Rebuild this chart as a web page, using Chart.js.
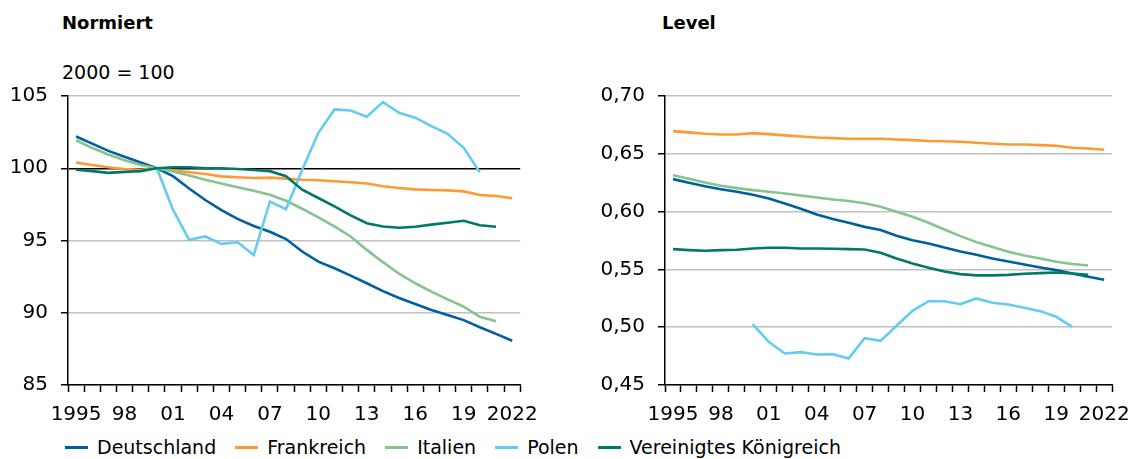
<!DOCTYPE html>
<html>
<head>
<meta charset="utf-8">
<script src="https://cdn.jsdelivr.net/npm/chart.js@4.4.1/dist/chart.umd.min.js"></script>
<style>
  body { margin: 0; background: #fff; width: 1138px; height: 459px; position: relative; overflow: hidden; font-family: "DejaVu Sans", sans-serif; color: #000; }
  canvas { position: absolute; top: 0; }
  .titel { position: absolute; font-weight: bold; font-size: 18px; line-height: 20px; }
  .sub { position: absolute; font-size: 19px; line-height: 20px; }
  #legende { position: absolute; left: 65px; top: 436px; display: flex; font-size: 19px; line-height: 22px; white-space: nowrap; }
  #legende .item { display: flex; align-items: center; margin-right: 19px; }
  #legende .strich { width: 23px; height: 3px; margin-right: 9px; }
</style>
</head>
<body>
<div class="titel" style="left:62px; top:13px;">Normiert</div>
<div class="sub" style="left:62px; top:62px;">2000 = 100</div>
<div class="titel" style="left:662px; top:13px;">Level</div>
<canvas id="links" width="549" height="430" style="left:0;"></canvas>
<canvas id="rechts" width="571" height="430" style="left:570px;"></canvas>
<div id="legende"></div>
<script>
const jahre = [1995, 1996, 1997, 1998, 1999, 2000, 2001, 2002, 2003, 2004, 2005, 2006, 2007, 2008,
  2009, 2010, 2011, 2012, 2013, 2014, 2015, 2016, 2017, 2018, 2019, 2020, 2021, 2022];
const xTickLabels = ['1995', '98', '01', '04', '07', '10', '13', '16', '19', '2022'];

const laender = ['Deutschland', 'Frankreich', 'Italien', 'Polen', 'Vereinigtes Königreich'];
const farben = ['#005f9e', '#ff9933', '#85c48f', '#66cbf3', '#007a68'];

// normiert, 2000 = 100
const normDeutschland = [102.2, 101.7, 101.2, 100.8, 100.4, 100.0, 99.45, 98.6, 97.8, 97.1, 96.5, 96.0, 95.6, 95.1,
  94.24, 93.54, 93.08, 92.57, 92.04, 91.5, 91.02, 90.6, 90.19, 89.84, 89.49, 89.0, 88.54, 88.06];
const normFrankreich = [100.39, 100.23, 100.07, 99.95, 99.9, 100.0, 99.86, 99.72, 99.6, 99.44, 99.38, 99.33, 99.35, 99.28,
  99.2, 99.17, 99.1, 99.03, 98.94, 98.75, 98.63, 98.54, 98.5, 98.47, 98.4, 98.15, 98.08, 97.92];
const normItalien = [101.94, 101.4, 100.95, 100.55, 100.23, 100.0, 99.77, 99.5, 99.2, 98.94, 98.68, 98.45, 98.17, 97.75,
  97.2, 96.6, 95.97, 95.28, 94.35, 93.5, 92.7, 92.04, 91.46, 90.93, 90.42, 89.72, 89.42, null];
const normPolen = [null, null, null, null, null, 100.0, 97.13, 95.05, 95.28, 94.77, 94.88, 94.0, 97.7, 97.17,
  99.9, 102.45, 104.07, 104.0, 103.56, 104.58, 103.84, 103.5, 102.92, 102.38, 101.41, 99.72, null, null];
const normUK = [99.9, 99.8, 99.68, 99.75, 99.8, 100.0, 100.07, 100.07, 100.0, 100.0, 99.95, 99.88, 99.8, 99.45,
  98.52, 97.94, 97.36, 96.74, 96.2, 95.97, 95.88, 95.95, 96.1, 96.23, 96.37, 96.06, 95.95, null];

// Level
const levelDeutschland = [0.6281, 0.6249, 0.622, 0.6194, 0.6171, 0.6145, 0.6114, 0.607, 0.6024, 0.5975, 0.5935, 0.5903, 0.5868, 0.584,
  0.5791, 0.5753, 0.5724, 0.569, 0.5655, 0.5626, 0.5595, 0.5569, 0.5543, 0.5517, 0.5494, 0.5465, 0.5436, 0.541];
const levelFrankreich = [0.6696, 0.6685, 0.6673, 0.6667, 0.6667, 0.6679, 0.667, 0.6659, 0.665, 0.6641, 0.6636, 0.663, 0.663, 0.663,
  0.6624, 0.6618, 0.6611, 0.6609, 0.6604, 0.6595, 0.6587, 0.6581, 0.6581, 0.6575, 0.6569, 0.6552, 0.6546, 0.6535];
const levelItalien = [0.6315, 0.6284, 0.6252, 0.6223, 0.6203, 0.6186, 0.6171, 0.6157, 0.614, 0.6122, 0.6105, 0.6091, 0.6073, 0.6042,
  0.5998, 0.5955, 0.5903, 0.5845, 0.5788, 0.5736, 0.5693, 0.5652, 0.5621, 0.5595, 0.5566, 0.5546, 0.5534, null];
const levelPolen = [null, null, null, null, null, 0.5024, 0.4874, 0.4773, 0.4784, 0.4764, 0.4767, 0.473, 0.4905, 0.4882,
  0.5012, 0.5142, 0.5225, 0.5225, 0.5199, 0.5249, 0.5211, 0.5197, 0.5168, 0.5139, 0.509, 0.5003, null, null];
const levelUK = [0.5675, 0.5667, 0.5661, 0.5667, 0.567, 0.5681, 0.5687, 0.5687, 0.5681, 0.5681, 0.5678, 0.5675, 0.5672, 0.5644,
  0.5595, 0.5551, 0.5514, 0.5482, 0.5459, 0.5448, 0.5448, 0.5453, 0.5462, 0.5468, 0.5473, 0.5465, 0.5453, null];

const schrift = { family: '"DejaVu Sans", sans-serif', size: 20 };

function zeichne(id, reihen, yMin, yMax, yStep, format, linie100, yBreite, rechtsPad) {
  const ctx = document.getElementById(id).getContext('2d');
  return new Chart(ctx, {
    type: 'line',
    data: {
      labels: jahre,
      datasets: reihen.map((werte, i) => ({
        label: laender[i],
        data: werte,
        borderColor: farben[i],
        backgroundColor: farben[i],
        borderWidth: 2.6,
        pointRadius: 0,
        tension: 0,
        order: reihen.length - i
      }))
    },
    options: {
      responsive: false,
      animation: false,
      layout: { padding: { top: 96, right: rechtsPad, left: 0, bottom: 0 } },
      plugins: { legend: { display: false }, tooltip: { enabled: false } },
      scales: {
        x: {
          offset: true,
          border: { color: '#000', width: 1.5 },
          grid: { offset: true, drawOnChartArea: false, drawTicks: true, tickLength: 7, tickColor: '#000', tickWidth: 1.5 },
          ticks: {
            autoSkip: false, maxRotation: 0, color: '#000', font: schrift, padding: 11,
            callback: (v, i) => (i % 3 === 0 ? xTickLabels[i / 3] : '')
          },
          afterFit: s => { s.height = 45; }
        },
        y: {
          min: yMin, max: yMax,
          border: { color: '#000', width: 1.5 },
          grid: {
            color: c => (linie100 !== null && Math.abs(c.tick.value - linie100) < 1e-9 ? '#000' : '#c0c0c0'),
            lineWidth: 1.5, tickLength: 7, tickColor: '#000', tickWidth: 1.5
          },
          ticks: { stepSize: yStep, color: '#000', font: schrift, padding: 13, callback: format },
          afterFit: s => { s.width = yBreite; }
        }
      }
    }
  });
}

zeichne('links', [normDeutschland, normFrankreich, normItalien, normPolen, normUK],
  85, 105, 5, v => String(Math.round(v)), 100, 68, 22);
zeichne('rechts', [levelDeutschland, levelFrankreich, levelItalien, levelPolen, levelUK],
  0.45, 0.70, 0.05, v => v.toFixed(2).replace('.', ','), null, 95, 22);

const legende = document.getElementById('legende');
laender.forEach((name, i) => {
  const item = document.createElement('div');
  item.className = 'item';
  const strich = document.createElement('span');
  strich.className = 'strich';
  strich.style.background = farben[i];
  const text = document.createElement('span');
  text.textContent = name;
  item.appendChild(strich);
  item.appendChild(text);
  legende.appendChild(item);
});
</script>
</body>
</html>
